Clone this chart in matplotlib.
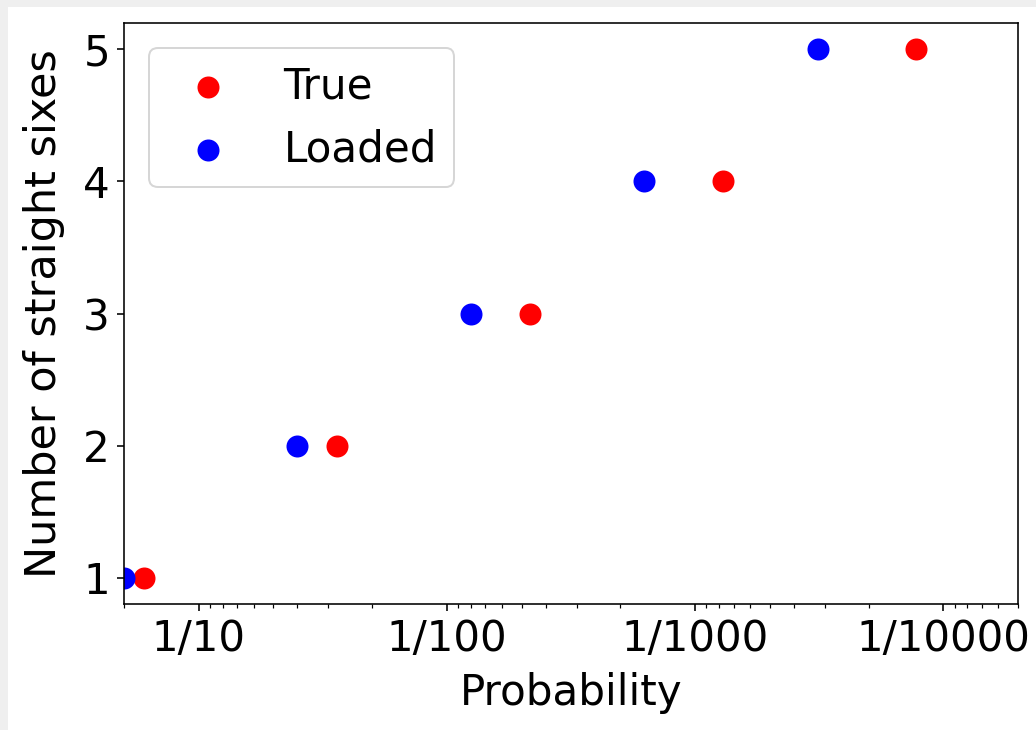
import matplotlib
matplotlib.use("Agg")
from matplotlib import pyplot as plt
from matplotlib.patches import Rectangle
from matplotlib.ticker import FixedLocator, NullFormatter

# number of sixes in a row
n_sixes = [1, 2, 3, 4, 5]
# probability of that many sixes, fair die vs loaded die
true_prob = [1/6, 1/36, 1/216, 1/1296, 1/7776]
loaded_prob = [1/5, 1/25, 1/125, 1/625, 1/3125]

tick_values = [1/10, 1/100, 1/1000, 1/10000]
tick_labels = ["1/10", "1/100", "1/1000", "1/10000"]

plt.rcParams["font.size"] = 21

fig = plt.figure(figsize=(1036/144, 730/144), dpi=144)
# light grey screenshot border along the top and left
fig.patches.append(Rectangle((0, 0), 1, 1, transform=fig.transFigure,
                             facecolor="#efefef", edgecolor="none", zorder=-2))
fig.patches.append(Rectangle((8/1036, 0), 1, 1 - 7/730, transform=fig.transFigure,
                             facecolor="white", edgecolor="none", zorder=-1))

ax = fig.add_axes([124/1036, 1 - 604/730, (1018 - 124)/1036, (604 - 23)/730])
ax.scatter(true_prob, n_sixes, color="red", s=100, label="True")
ax.scatter(loaded_prob, n_sixes, color="blue", s=100, label="Loaded")

ax.set_xscale("log")
ax.set_xlim(0.2, 5e-5)
ax.xaxis.set_major_locator(FixedLocator(tick_values))
ax.set_xticklabels(tick_labels)
ax.xaxis.set_minor_formatter(NullFormatter())

ax.set_xlabel("Probability", labelpad=6)
ax.set_ylabel("Number of straight sixes", fontsize=21.5, labelpad=9)
ax.legend(loc="upper left", borderaxespad=0.6)

fig.savefig("out.png", dpi=144)
